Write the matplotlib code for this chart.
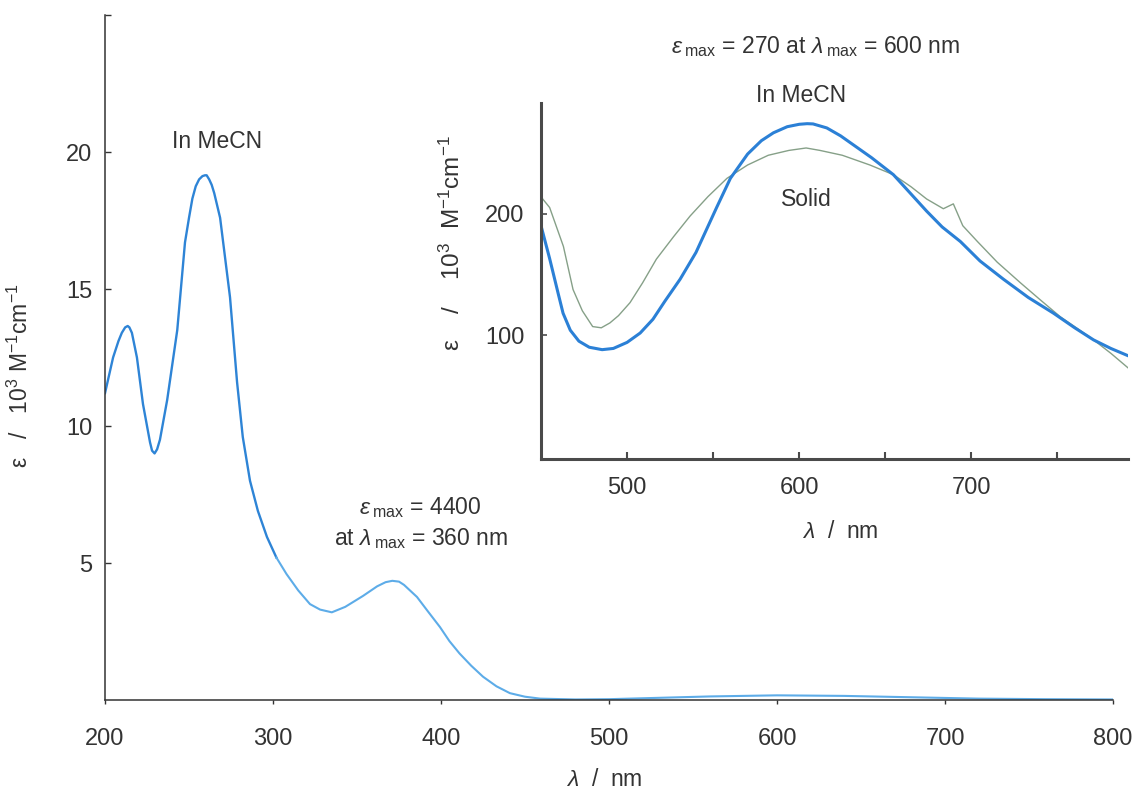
import numpy as np
import matplotlib
matplotlib.use("Agg")
import matplotlib.pyplot as plt

plt.rcParams['font.family'] = ['Liberation Sans', 'DejaVu Sans']
plt.rcParams['mathtext.fontset'] = 'custom'
plt.rcParams['mathtext.rm'] = 'Liberation Sans'
plt.rcParams['mathtext.it'] = 'Liberation Sans:italic'
plt.rcParams['mathtext.bf'] = 'Liberation Sans:bold'

# =============================================================================
# DATA
# =============================================================================
# main spectrum in MeCN, eps in 10^3 M-1 cm-1
wl_main = [200, 204.8, 208, 210, 212, 213.5, 214.5, 216, 219, 222.6, 226.8, 228,
           229.5, 231, 232.7, 237, 243, 247.6, 250, 252, 254, 256, 258, 259.5,
           260.5, 262, 263.5, 265, 268.5, 274.4, 278.6, 282, 286.3, 291,
           296.4, 302, 308, 315, 322, 328, 335, 343, 353.6, 362, 367, 371, 375,
           378, 385.7, 392, 399.4, 405, 411, 418, 425, 433, 441, 450, 459, 480,
           500, 530, 560, 600, 640, 680, 720, 760, 800]
eps_main = [11.2, 12.5, 13.1, 13.4, 13.6, 13.65, 13.6, 13.4, 12.5, 10.8, 9.4, 9.1,
            9.0, 9.15, 9.5, 10.95, 13.5, 16.7, 17.6, 18.3, 18.75, 19.0, 19.12, 19.15,
            19.15, 19.0, 18.8, 18.5, 17.6, 14.7, 11.6, 9.6, 8.0, 6.9,
            5.95, 5.2, 4.6, 4.0, 3.5, 3.3, 3.2, 3.4, 3.8, 4.15, 4.3, 4.35, 4.32,
            4.2, 3.76, 3.25, 2.66, 2.15, 1.7, 1.25, 0.85, 0.5, 0.25, 0.12, 0.05, 0.02,
            0.03, 0.08, 0.13, 0.17, 0.15, 0.1, 0.05, 0.03, 0.02]

# inset, MeCN solution
wl_sol = [450, 455, 460, 462.8, 467, 472, 478, 485.5, 492, 500, 507.6, 515, 522,
          530.8, 540, 552, 560, 570, 578, 585, 593, 600, 604.6, 608, 616, 624,
          631, 642, 654.7, 665, 674, 683, 693.6, 705, 718.6, 733, 747.7, 760,
          771, 781, 791]
eps_sol = [190, 163, 134, 118, 104, 95, 90, 88, 89, 94, 101.7, 113, 128,
           146, 168, 205, 229, 249, 260, 266.5, 271.5, 273.5, 274, 273.8, 270.5, 264,
           257, 246, 232, 216, 202, 189, 177, 161, 146, 131, 118, 106,
           96, 89, 83]

# inset, solid state
wl_solid = [451, 455, 458, 463, 468.6, 474, 480, 485, 490, 495, 501.7, 509, 517,
            527, 536.6, 547, 558, 570, 582, 594, 604, 612, 625, 641, 654.7, 665,
            674, 683.7, 689.5, 695, 703.5, 715, 728.5, 740, 751.7, 762, 771, 781, 791]
eps_solid = [212, 205, 193, 173, 137.5, 120, 107, 106, 110, 116, 126.7, 143, 162.5,
             181, 198, 214, 229, 240, 248, 252, 254, 252, 248, 240, 232, 222,
             212, 204, 208, 190, 177, 160, 143, 129, 115, 105, 96, 85, 73]

# =============================================================================
# FIGURE
# =============================================================================
TXT = '#333333'
fig = plt.figure(figsize=(11.39, 7.98), dpi=100)
ax = fig.add_axes([0.0922, 0.1228, 0.885, 0.8584])

wl_main = np.array(wl_main)
eps_main = np.array(eps_main)
dark = wl_main <= 302
light = wl_main >= 302
ax.plot(wl_main[dark], eps_main[dark], color='#2e84d6', lw=1.7)
ax.plot(wl_main[light], eps_main[light], color='#5dace8', lw=1.5)

ax.set_xlim(200, 800)
ax.set_ylim(0, 25)
for s in ['top', 'right']:
    ax.spines[s].set_visible(False)
for s in ['left', 'bottom']:
    ax.spines[s].set_color(TXT)
    ax.spines[s].set_linewidth(1.1)

ax.set_xticks([200, 300, 400, 500, 600, 700, 800])
ax.set_yticks([5, 10, 15, 20, 25], labels=['5', '10', '15', '20', ''])
ax.tick_params(axis='x', direction='out', length=3, width=1, color=TXT,
               pad=17, labelsize=17, labelcolor=TXT)
ax.tick_params(axis='y', direction='in', length=4, width=1, color=TXT,
               pad=9, labelsize=17, labelcolor=TXT)

ax.set_xlabel(r'$\lambda$  /  nm', fontsize=16.5, color=TXT)
ax.xaxis.set_label_coords(0.495, -0.099)
ax.set_ylabel(r'ε   /   10$^3$ M$^{-1}$cm$^{-1}$', fontsize=16.5, color=TXT)
ax.yaxis.set_label_coords(-0.072, 0.474)

ax.text(0.111, 0.815, 'In MeCN', transform=ax.transAxes, ha='center', va='center',
        fontsize=16.5, color=TXT)
ax.text(0.313, 0.281, r'$\varepsilon\,{}_{\mathrm{max}}$ = 4400', transform=ax.transAxes,
        ha='center', va='center', fontsize=16.5, color=TXT)
ax.text(0.313, 0.236, r'at $\lambda\,{}_{\mathrm{max}}$ = 360 nm', transform=ax.transAxes,
        ha='center', va='center', fontsize=16.5, color=TXT)

# inset
ins = fig.add_axes([0.475, 0.4248, 0.5154, 0.4461])
ins.patch.set_alpha(0)
ins.plot(wl_solid, eps_solid, color='#86a088', lw=1.0)
ins.plot(wl_sol, eps_sol, color='#2b80d6', lw=2.2)
ins.set_xlim(450, 791)
ins.set_ylim(-2, 291)
for s in ['top', 'right']:
    ins.spines[s].set_visible(False)
for s in ['left', 'bottom']:
    ins.spines[s].set_color('#4a4a4a')
    ins.spines[s].set_linewidth(2.2)
ins.set_xticks([500, 600, 700])
ins.set_xticks([550, 650, 750], minor=True)
ins.set_yticks([100, 200])
ins.tick_params(axis='x', which='both', direction='in', length=5, width=1.5,
                color='#4a4a4a', pad=13, labelsize=17, labelcolor=TXT)
ins.tick_params(axis='y', direction='in', length=4, width=1.2, color='#4a4a4a',
                pad=12, labelsize=17, labelcolor=TXT)
ins.set_xlabel(r'$\lambda$  /  nm', fontsize=16.5, color=TXT)
ins.xaxis.set_label_coords(0.51, -0.17)
ins.set_ylabel(r'ε    /    10$^3$  M$^{-1}$cm$^{-1}$', fontsize=17.5, color=TXT)
ins.yaxis.set_label_coords(-0.129, 0.607)

fig.text(815 / 1139, 1 - 47 / 798,
         r'$\varepsilon\,{}_{\mathrm{max}}$ = 270 at $\lambda\,{}_{\mathrm{max}}$ = 600 nm',
         ha='center', va='center', fontsize=16.5, color=TXT)
fig.text(801 / 1139, 1 - 96 / 798, 'In MeCN', ha='center', va='center',
         fontsize=16.5, color=TXT)
fig.text(806 / 1139, 1 - 199 / 798, 'Solid', ha='center', va='center',
         fontsize=16.5, color=TXT)

plt.savefig('out.png', dpi=100)
